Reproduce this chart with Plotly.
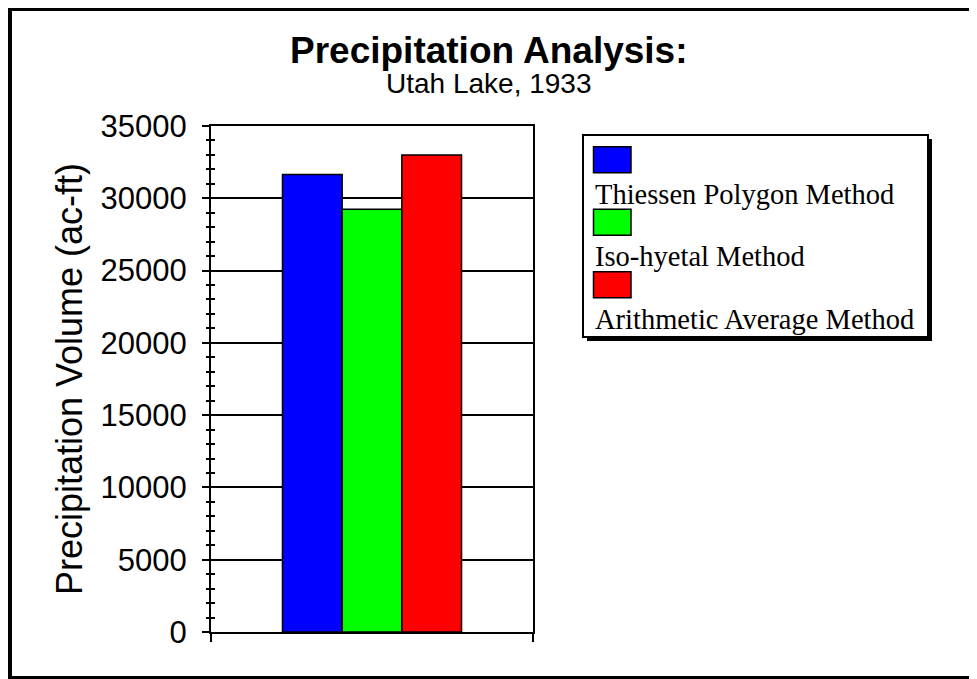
import plotly.graph_objects as go

# ---- data ----
methods = ["Thiessen Polygon Method", "Iso-hyetal Method", "Arithmetic Average Method"]
volumes = [31650, 29250, 33000]
colors = ["#0000FF", "#00FF00", "#FF0000"]
category = [0]

title_text = "Precipitation Analysis:"
subtitle_text = "Utah Lake, 1933"
y_title = "Precipitation Volume (ac-ft)"
y_ticks = [0, 5000, 10000, 15000, 20000, 25000, 30000, 35000]

# ---- layout geometry (figure pixels) ----
W, H = 977, 679
ML, MR, MT, MB = 203, 452, 118, 55
PW, PH = W - ML - MR, H - MT - MB


def px_x(px):
    return (px - ML) / PW


def px_y(py):
    return (H - MB - py) / PH


sans = "Liberation Sans, Arial, sans-serif"
serif = "Liberation Serif, Times New Roman, serif"

fig = go.Figure()
for name, val, col in zip(methods, volumes, colors):
    fig.add_trace(go.Bar(
        x=category, y=[val], name=name, showlegend=False,
        marker=dict(color=col, line=dict(color="black", width=1.5)),
        hovertemplate=name + ": %{y}<extra></extra>",
    ))

# hidden trace to activate yaxis2 (inner ticks)
fig.add_trace(go.Bar(x=category, y=[None], yaxis="y2", showlegend=False, hoverinfo="skip"))

fig.update_layout(
    width=W, height=H,
    margin=dict(l=ML, r=MR, t=MT, b=MB),
    paper_bgcolor="white", plot_bgcolor="white",
    barmode="group", bargap=0.444, bargroupgap=0,
    showlegend=False,
    xaxis=dict(
        range=[-0.5, 0.5], tickvals=[-0.5, 0.5], ticktext=["", ""],
        ticks="outside", ticklen=8, tickwidth=1.5, tickcolor="black",
        showline=True, linecolor="black", linewidth=2, mirror=True,
        showgrid=False, zeroline=False, fixedrange=True,
    ),
    yaxis=dict(
        range=[0, 35000], tickvals=y_ticks, tickformat="d",
        ticks="outside", ticklen=7, tickwidth=1.5, tickcolor="black",
        minor=dict(dtick=1000, ticks="outside", ticklen=3, tickwidth=1.5, tickcolor="black", showgrid=False),
        showline=True, linecolor="black", linewidth=2, mirror=True,
        showgrid=True, gridcolor="black", gridwidth=1.5, zeroline=False,
        tickfont=dict(family=sans, size=31, color="black"),
        title=dict(text=y_title, font=dict(family=sans, size=36, color="black"), standoff=7),
        ticklabelstandoff=9,
    ),
    yaxis2=dict(
        range=[0, 35000], tickvals=y_ticks, overlaying="y", side="left",
        ticks="inside", ticklen=7, tickwidth=1.5, tickcolor="black",
        minor=dict(dtick=1000, ticks="inside", ticklen=4, tickwidth=1.5, tickcolor="black", showgrid=False),
        showticklabels=False, showgrid=False, showline=False, zeroline=False,
    ),
)

annotations = [
    dict(text="<b>" + title_text + "</b>", xref="paper", yref="paper",
         x=px_x(481), y=px_y(43), xanchor="center", yanchor="middle", showarrow=False,
         font=dict(family=sans, size=37, color="black")),
    dict(text=subtitle_text, xref="paper", yref="paper",
         x=px_x(481), y=px_y(75), xanchor="center", yanchor="middle", showarrow=False,
         font=dict(family=sans, size=28, color="black")),
]

shapes = []
# ---- legend box (with drop shadow) ----
LX0, LX1, LY0, LY1 = 575, 920, 127, 329
SH = 4
shapes.append(dict(type="rect", xref="paper", yref="paper",
                   x0=px_x(LX0 + SH), x1=px_x(LX1 + SH), y0=px_y(LY1 + SH), y1=px_y(LY0 + SH),
                   line=dict(width=0), fillcolor="black", layer="above"))
shapes.append(dict(type="rect", xref="paper", yref="paper",
                   x0=px_x(LX0), x1=px_x(LX1), y0=px_y(LY1), y1=px_y(LY0),
                   line=dict(color="black", width=2), fillcolor="white", layer="above"))
SW_X0, SW_W, SW_Y0, SW_H, PITCH = 585.5, 37.5, 138.7, 26, 62.5
TXT_X, TXT_Y0 = 585, 186
for k, (name, col) in enumerate(zip(methods, colors)):
    y0 = SW_Y0 + PITCH * k
    shapes.append(dict(type="rect", xref="paper", yref="paper",
                       x0=px_x(SW_X0), x1=px_x(SW_X0 + SW_W), y0=px_y(y0 + SW_H), y1=px_y(y0),
                       line=dict(color="black", width=1.5), fillcolor=col, layer="above"))
    annotations.append(dict(text=name, xref="paper", yref="paper",
                            x=px_x(TXT_X), y=px_y(TXT_Y0 + PITCH * k),
                            xanchor="left", yanchor="middle", showarrow=False,
                            font=dict(family=serif, size=28.5, color="black")))

# ---- outer frame ----
shapes.append(dict(type="rect", xref="paper", yref="paper",
                   x0=px_x(2), x1=px_x(990), y0=px_y(670), y1=px_y(1),
                   line=dict(color="black", width=4), fillcolor="rgba(0,0,0,0)", layer="above"))

fig.update_layout(annotations=annotations, shapes=shapes)

fig.write_html("out.html")
